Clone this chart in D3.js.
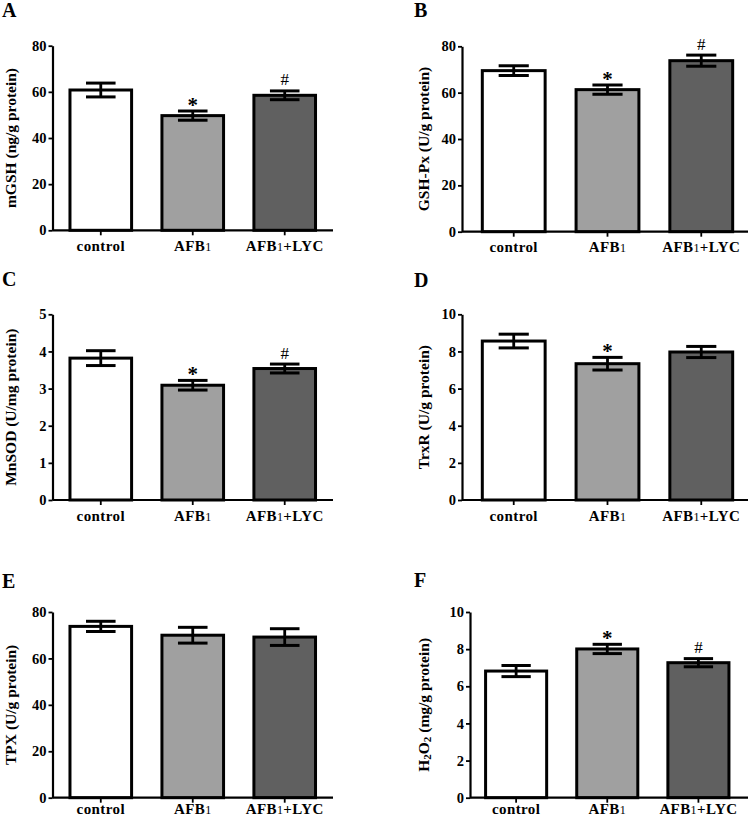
<!DOCTYPE html>
<html>
<head>
<meta charset="utf-8">
<script src="https://cdn.jsdelivr.net/npm/d3@7"></script>
<style>
  html, body { margin: 0; padding: 0; background: #fff; }
  svg { display: block; }
  text { font-family: "Liberation Serif", "Times New Roman", serif; }
</style>
</head>
<body>
<svg id="chart" width="750" height="819"></svg>
<script>
// ---------------- data ----------------
const categories = ["control", "AFB1", "AFB1+LYC"];
const barColors = ["#ffffff", "#a0a0a0", "#606060"];

const mGSH      = [60.8, 49.7, 58.5];
const mGSH_err  = [3.0, 2.0, 1.9];
const GSHPx     = [69.5, 61.3, 73.8];
const GSHPx_err = [2.1, 2.0, 2.4];
const MnSOD     = [3.82, 3.09, 3.54];
const MnSOD_err = [0.20, 0.13, 0.12];
const TrxR      = [8.56, 7.34, 7.97];
const TrxR_err  = [0.37, 0.34, 0.30];
const TPX       = [73.8, 70.0, 69.2];
const TPX_err   = [2.2, 3.4, 3.6];
const H2O2      = [6.82, 8.01, 7.27];
const H2O2_err  = [0.30, 0.25, 0.22];

const marksA = ["", "*", "#"];
const marksB = ["", "*", "#"];
const marksC = ["", "*", "#"];
const marksD = ["", "*", ""];
const marksE = ["", "", ""];
const marksF = ["", "*", "#"];

const ticks80 = [0, 20, 40, 60, 80];
const ticks5  = [0, 1, 2, 3, 4, 5];
const ticks10 = [0, 2, 4, 6, 8, 10];

// ---------------- panel setup ----------------
const panels = [
  { letter: "A", label: [["mGSH (ng/g protein)"]], values: mGSH, errs: mGSH_err, marks: marksA, ticks: ticks80,
    layout: { left: 52.5, right: 333, top: 45.7, bottom: 230.3, align: 0.5, lx: 2, ly: 17, yl: 10, pad: 5 } },
  { letter: "B", label: [["GSH-Px (U/g protein)"]], values: GSHPx, errs: GSHPx_err, marks: marksB, ticks: ticks80,
    layout: { left: 462, right: 748, top: 46.3, bottom: 231.7, align: 0.57, lx: 414, ly: 17, yl: 422.5, pad: 5 } },
  { letter: "C", label: [["MnSOD (U/mg protein)"]], values: MnSOD, errs: MnSOD_err, marks: marksC, ticks: ticks5,
    layout: { left: 52.5, right: 333, top: 314.3, bottom: 500, align: 0.5, lx: 2, ly: 286, yl: 10, pad: 5 } },
  { letter: "D", label: [["TrxR (U/g protein)"]], values: TrxR, errs: TrxR_err, marks: marksD, ticks: ticks10,
    layout: { left: 462, right: 748, top: 314.3, bottom: 500, align: 0.57, lx: 414, ly: 287, yl: 422.5, pad: 5 } },
  { letter: "E", label: [["TPX (U/g protein)"]], values: TPX, errs: TPX_err, marks: marksE, ticks: ticks80,
    layout: { left: 52.5, right: 333, top: 612, bottom: 797.7, align: 0.5, lx: 2, ly: 588, yl: 10, pad: 1 } },
  { letter: "F", label: [["H", false], ["2", true], ["O", false], ["2", true], [" (mg/g protein)", false]], values: H2O2, errs: H2O2_err, marks: marksF, ticks: ticks10,
    layout: { left: 470, right: 748, top: 612, bottom: 797.7, align: 0.45, lx: 414, ly: 587, yl: 422.5, pad: 1 } }
];

const svg = d3.select("#chart");

panels.forEach(p => {
  const L = p.layout;
  const g = svg.append("g");
  const ymax = d3.max(p.ticks);

  const x = d3.scaleBand().domain(categories).range([L.left, L.right])
    .paddingInner(0.33).paddingOuter(0.19).align(L.align);
  const y = d3.scaleLinear().domain([0, ymax]).range([L.bottom, L.top]);
  const bw = x.bandwidth();

  // bars
  g.selectAll("rect.bar").data(categories).join("rect")
    .attr("class", "bar")
    .attr("x", d => x(d))
    .attr("width", bw)
    .attr("y", (d, i) => y(p.values[i]))
    .attr("height", (d, i) => y(0) - y(p.values[i]))
    .attr("fill", (d, i) => barColors[i])
    .attr("stroke", "#000")
    .attr("stroke-width", 3);

  // error bars
  const capW = bw * 0.48;
  categories.forEach((c, i) => {
    const cx = x(c) + bw / 2;
    const hi = y(p.values[i] + p.errs[i]);
    const lo = y(p.values[i] - p.errs[i]);
    g.append("line").attr("x1", cx).attr("x2", cx).attr("y1", hi).attr("y2", lo)
      .attr("stroke", "#000").attr("stroke-width", 2.8);
    [hi, lo].forEach(yy => {
      g.append("line").attr("x1", cx - capW / 2).attr("x2", cx + capW / 2)
        .attr("y1", yy).attr("y2", yy)
        .attr("stroke", "#000").attr("stroke-width", 3);
    });
    const m = p.marks[i];
    if (m) {
      g.append("text")
        .attr("x", cx)
        .attr("y", m === "*" ? hi + 1 : hi - 5.5)
        .attr("text-anchor", "middle")
        .attr("font-size", m === "*" ? 21 : 17)
        .attr("font-weight", m === "*" ? "bold" : "normal")
        .text(m);
    }
  });

  // y axis
  const yAxis = g.append("g").attr("transform", `translate(${L.left},0)`)
    .call(d3.axisLeft(y).tickValues(p.ticks).tickSize(4).tickSizeOuter(0).tickPadding(2).tickFormat(d3.format("d")));
  yAxis.select(".domain").attr("stroke-width", 2.2);
  yAxis.selectAll(".tick line").attr("stroke-width", 1.8);
  yAxis.selectAll(".tick text").attr("font-family", "Liberation Serif").attr("font-weight", "bold")
    .attr("font-size", 14.5).attr("fill", "#000");

  // x axis
  const xAxis = g.append("g").attr("transform", `translate(0,${L.bottom})`)
    .call(d3.axisBottom(x).tickSize(5).tickSizeOuter(0).tickPadding(L.pad));
  xAxis.select(".domain").attr("stroke-width", 2.2)
    .attr("d", `M${L.left},0H${L.right}`);
  xAxis.selectAll(".tick line").attr("stroke-width", 1.8);
  xAxis.selectAll(".tick text").each(function(d) {
    const t = d3.select(this);
    t.text(null).attr("font-family", "Liberation Serif").attr("font-weight", "bold")
      .attr("font-size", 15).attr("fill", "#000").attr("letter-spacing", 0.4);
    if (d.startsWith("AFB1")) {
      t.append("tspan").text("AFB");
      t.append("tspan").attr("font-weight", "normal").attr("font-size", 12).text("1");
      if (d.length > 4) t.append("tspan").text(d.slice(4));
    } else {
      t.text(d);
    }
  });

  // y label
  const yl = g.append("text")
    .attr("transform", `translate(${L.yl},${(L.top + L.bottom) / 2}) rotate(-90)`)
    .attr("text-anchor", "middle")
    .attr("dominant-baseline", "central")
    .attr("font-weight", "bold")
    .attr("font-size", 15.5);
  p.label.forEach(part => {
    const [txt, sub] = part;
    const ts = yl.append("tspan").text(txt);
    if (sub) ts.attr("font-size", 11).attr("dy", 4);
    else if (sub === false && yl.selectAll("tspan").size() > 1) ts.attr("dy", -4);
  });

  // panel letter
  g.append("text").attr("x", L.lx).attr("y", L.ly)
    .attr("font-weight", "bold").attr("font-size", 20).text(p.letter);
});
</script>
</body>
</html>
